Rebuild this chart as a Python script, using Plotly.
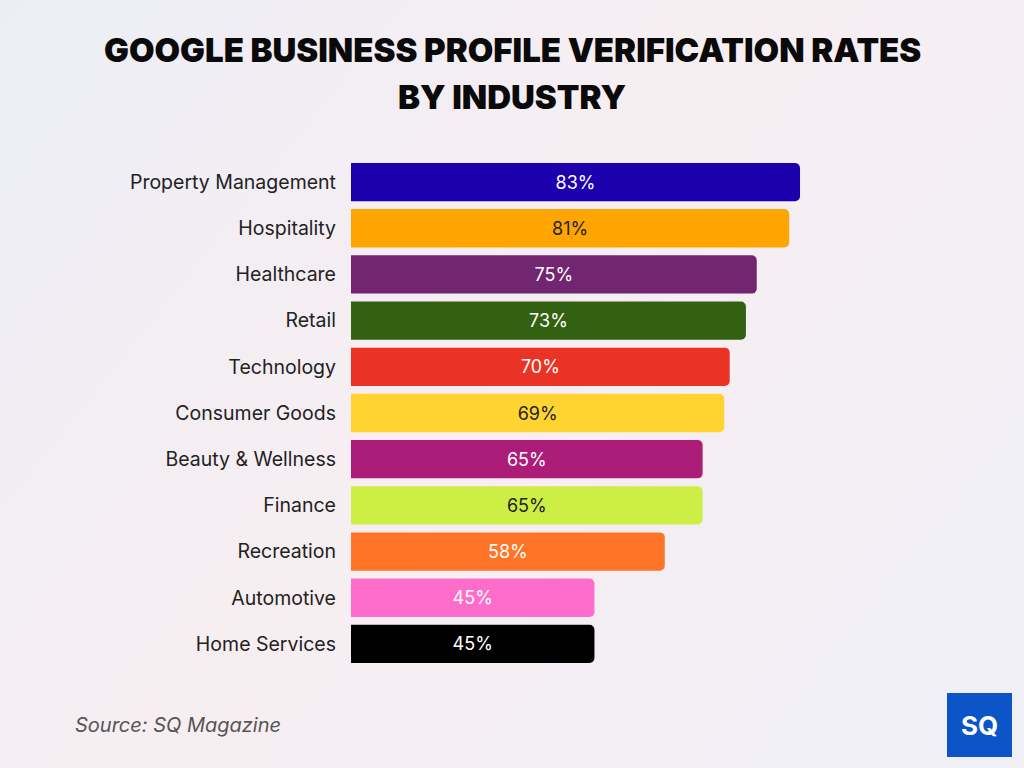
import base64
import plotly.graph_objects as go

industries = ["Property Management", "Hospitality", "Healthcare", "Retail", "Technology",
              "Consumer Goods", "Beauty & Wellness", "Finance", "Recreation", "Automotive",
              "Home Services"]
rates = [83, 81, 75, 73, 70, 69, 65, 65, 58, 45, 45]
bar_colors = ["#1c00ae", "#ffa502", "#722571", "#336112", "#eb3325", "#ffd430",
              "#ac1c79", "#ccee45", "#ff7427", "#ff6dcb", "#000000"]
text_colors = ["#ffffff", "#222222", "#ffffff", "#ffffff", "#ffffff", "#222222",
               "#ffffff", "#222222", "#ffffff", "#ffffff", "#ffffff"]
labels = [f"{v}%" for v in rates]

PL, PR, PT, PB = 351, 892, 159, 667
PW, PH = PR - PL, PB - PT


def px(x):
    return (x - PL) / PW


def py(y):
    return (PB - y) / PH


fig = go.Figure(go.Bar(
    x=rates, y=industries, orientation="h",
    marker=dict(color=bar_colors, line=dict(width=0)),
    text=labels, textposition="inside", insidetextanchor="middle",
    textangle=0, constraintext="none",
    textfont=dict(family="Inter, Lato, sans-serif", size=18, color=text_colors),
    hoverinfo="skip",
))

svg = ('<svg xmlns="http://www.w3.org/2000/svg" width="1024" height="768">'
       '<defs><linearGradient id="g" x1="0" y1="0" x2="1" y2="0.6">'
       '<stop offset="0" stop-color="#eceef6"/>'
       '<stop offset="0.55" stop-color="#f7eef1"/>'
       '<stop offset="1" stop-color="#f1eff6"/>'
       '</linearGradient></defs>'
       '<rect width="1024" height="768" fill="url(#g)"/></svg>')
bg = "data:image/svg+xml;base64," + base64.b64encode(svg.encode()).decode()

fig.update_layout(
    width=1024, height=768,
    margin=dict(l=PL, r=1024 - PR, t=PT, b=768 - PB),
    paper_bgcolor="#f4eff4", plot_bgcolor="rgba(0,0,0,0)",
    bargap=0.17, barcornerradius=5,
    showlegend=False,
    font=dict(family="Inter, Lato, sans-serif", color="#222222"),
    xaxis=dict(range=[0, 100], visible=False, fixedrange=True),
    yaxis=dict(autorange="reversed", showgrid=False, zeroline=False, showline=False,
               ticks="", ticklabelstandoff=14,
               tickfont=dict(family="Inter, Lato, sans-serif", size=19.5, color="#222222")),
    images=[dict(source=bg, xref="paper", yref="paper",
                 x=-PL / PW, y=(768 - PB + PH) / PH - (768 - PB) / PH + (PT) / PH,
                 sizex=1024 / PW, sizey=768 / PH, xanchor="left", yanchor="top",
                 sizing="stretch", layer="below")],
)

title_lines = ["GOOGLE BUSINESS PROFILE VERIFICATION RATES", "BY INDUSTRY"]
for line, yc in zip(title_lines, [50, 97]):
    fig.add_annotation(text=line, xref="paper", yref="paper",
                       x=px(512), y=py(yc), xanchor="center", yanchor="middle",
                       showarrow=False,
                       font=dict(family="Inter, DejaVu Sans, sans-serif", size=33,
                                 color="#0a0a0a", weight=900))

fig.add_annotation(text="Source: SQ Magazine", xref="paper", yref="paper",
                   x=px(73), y=py(725), xanchor="left", yanchor="middle",
                   showarrow=False,
                   font=dict(family="Inter, Lato, sans-serif", size=20, color="#555555", style="italic"))

# logo
fig.add_shape(type="rect", xref="paper", yref="paper",
              x0=px(947), x1=px(1012), y0=py(757), y1=py(693),
              fillcolor="#0b55c9", line=dict(width=0), layer="above")
fig.add_annotation(text="<b>SQ</b>", xref="paper", yref="paper",
                   x=px(979.5), y=py(725), xanchor="center", yanchor="middle",
                   showarrow=False,
                   font=dict(family="Inter, DejaVu Sans, sans-serif", size=26, color="#ffffff"))

fig.write_html("out.html")
